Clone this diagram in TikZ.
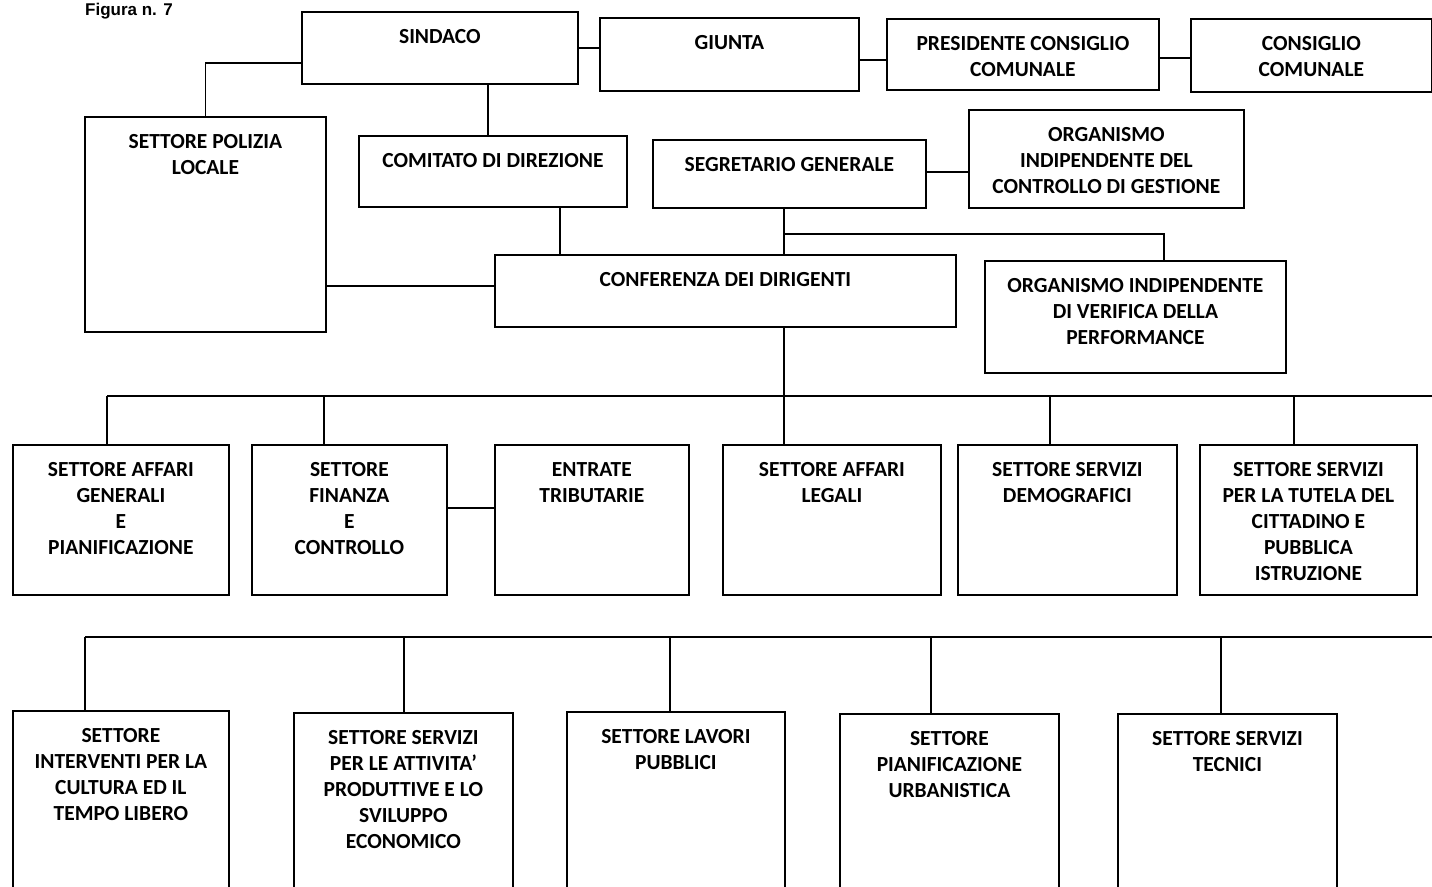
\documentclass[tikz,border=0pt]{standalone}
\usepackage{fontspec}
\setmainfont{Carlito}
\newfontfamily\capfont{Liberation Sans}
\usetikzlibrary{
	positioning,
	calc
}

\begin{document}
\begin{tikzpicture}[x=1pt,y=-1pt,
	box/.style={draw,line width=1.8pt,inner sep=0pt,anchor=north west},
	lbl/.style={anchor=north,align=center,inner sep=0pt,yshift=-18pt,
		font=\bfseries\fontsize{21.5}{26}\selectfont},
	link/.style={line width=1.8pt}]
		
		\useasboundingbox (0,0) rectangle (1432,886);
		
		\node[anchor=base west,inner sep=0pt,font=\capfont\bfseries\fontsize{17}{20}\selectfont] (fig) at (85,15) {Figura n. 7};
		
		% Vertice
		\node[box,minimum width=276pt,minimum height=72pt,label={[lbl]north:SINDACO}] (sindaco) at (301,11) {};
		\node[box,minimum width=259pt,minimum height=73pt,label={[lbl]north:GIUNTA}] (giunta) at (599,17) {};
		\node[box,minimum width=272pt,minimum height=71pt,label={[lbl]north:PRESIDENTE CONSIGLIO\\COMUNALE}] (presidente) at (886,18) {};
		\node[box,minimum width=241pt,minimum height=73pt,label={[lbl]north:CONSIGLIO\\COMUNALE}] (consiglio) at (1190,18) {};
		
		\node[box,minimum width=241pt,minimum height=215pt,label={[lbl]north:SETTORE POLIZIA\\LOCALE}] (polizia) at (84,116) {};
		\node[box,minimum width=268pt,minimum height=71pt,label={[lbl]north:COMITATO DI DIREZIONE}] (comitato) at (358,135) {};
		\node[box,minimum width=273pt,minimum height=68pt,label={[lbl]north:SEGRETARIO GENERALE}] (segretario) at (652,139) {};
		\node[box,minimum width=275pt,minimum height=98pt,label={[lbl]north:ORGANISMO\\INDIPENDENTE DEL\\CONTROLLO DI GESTIONE}] (oicg) at (968,109) {};
		\node[box,minimum width=461pt,minimum height=72pt,label={[lbl]north:CONFERENZA DEI DIRIGENTI}] (conferenza) at (494,254) {};
		\node[box,minimum width=301pt,minimum height=112pt,label={[lbl]north:ORGANISMO INDIPENDENTE\\DI VERIFICA DELLA\\PERFORMANCE}] (oiv) at (984,260) {};
		
		% Settori, prima fila
		\node[box,minimum width=216pt,minimum height=150pt,label={[lbl]north:SETTORE AFFARI\\GENERALI\\E\\PIANIFICAZIONE}] (affgen) at (12,444) {};
		\node[box,minimum width=195pt,minimum height=150pt,label={[lbl]north:SETTORE\\FINANZA\\E\\CONTROLLO}] (finanza) at (251,444) {};
		\node[box,minimum width=194pt,minimum height=150pt,label={[lbl]north:ENTRATE\\TRIBUTARIE}] (entrate) at (494,444) {};
		\node[box,minimum width=218pt,minimum height=150pt,label={[lbl]north:SETTORE AFFARI\\LEGALI}] (legali) at (722,444) {};
		\node[box,minimum width=219pt,minimum height=150pt,label={[lbl]north:SETTORE SERVIZI\\DEMOGRAFICI}] (demografici) at (957,444) {};
		\node[box,minimum width=217pt,minimum height=150pt,label={[lbl]north:SETTORE SERVIZI\\PER LA TUTELA DEL\\CITTADINO E\\PUBBLICA\\ISTRUZIONE}] (tutela) at (1199,444) {};
		
		% Settori, seconda fila
		\node[box,minimum width=216pt,minimum height=190pt,label={[lbl]north:SETTORE\\INTERVENTI PER LA\\CULTURA ED IL\\TEMPO LIBERO}] (cultura) at (12,710) {};
		\node[box,minimum width=219pt,minimum height=190pt,label={[lbl]north:SETTORE SERVIZI\\PER LE ATTIVITA’\\PRODUTTIVE E LO\\SVILUPPO\\ECONOMICO}] (attivita) at (293,712) {};
		\node[box,minimum width=218pt,minimum height=190pt,label={[lbl]north:SETTORE LAVORI\\PUBBLICI}] (lavori) at (566,711) {};
		\node[box,minimum width=219pt,minimum height=190pt,label={[lbl]north:SETTORE\\PIANIFICAZIONE\\URBANISTICA}] (urbanistica) at (839,713) {};
		\node[box,minimum width=219pt,minimum height=190pt,label={[lbl]north:SETTORE SERVIZI\\TECNICI}] (tecnici) at (1117,713) {};
		
		% Linea dei settori
		\coordinate (b1) at (107,396);
		\coordinate (b2) at (324,396);
		\coordinate (b3) at (784,396);
		\coordinate (b4) at (1050,396);
		\coordinate (b5) at (1294,396);
		\coordinate (bend) at (1440,396);
		
		\coordinate (d1) at (85,637);
		\coordinate (d2) at (404,637);
		\coordinate (d3) at (670,637);
		\coordinate (d4) at (931,637);
		\coordinate (d5) at (1221,637);
		\coordinate (dend) at (1440,637);
		
		% Collegamenti in alto
		\draw[link] (sindaco.east) -- (sindaco.east -| giunta.west);
		\draw[link] ($(giunta.east)+(0,5.5)$) coordinate (gp) -- (gp -| presidente.west);
		\draw[link] ($(presidente.east)+(0,3.5)$) coordinate (pc) -- (pc -| consiglio.west);
		\draw[link] ($(sindaco.west)+(0,15)$) -| (polizia.north);
		\draw[link] ($(sindaco.south)+(48,0)$) coordinate (s1) -- (s1 |- comitato.north);
		\draw[link] ($(segretario.east)+(0,-2)$) coordinate (so) -- (so -| oicg.west);
		\draw[link] ($(comitato.south)+(67,0)$) coordinate (c1) -- (c1 |- conferenza.north);
		\draw[link] ($(conferenza.west)+(0,-5)$) coordinate (cp) -- (cp -| polizia.east);
		\draw[link] (b3 |- segretario.south) coordinate (g1) -- (g1 |- conferenza.north);
		\draw[link] ($(g1)+(0,25)$) -| ($(oiv.north)+(28.5,0)$);
		
		% Settori
		\draw[link] (b1) -- (bend);
		\draw[link] (b3 |- conferenza.south) -- (b3);
		\draw[link] (b1) -- (b1 |- affgen.north);
		\draw[link] (b2) -- (b2 |- finanza.north);
		\draw[link] (b3) -- (b3 |- legali.north);
		\draw[link] (b4) -- (b4 |- demografici.north);
		\draw[link] (b5) -- (b5 |- tutela.north);
		\draw[link] ($(finanza.east)+(0,-12)$) coordinate (fe) -- (fe -| entrate.west);
		
		\draw[link] (d1) -- (dend);
		\draw[link] (d1) -- (d1 |- cultura.north);
		\draw[link] (d2) -- (d2 |- attivita.north);
		\draw[link] (d3) -- (d3 |- lavori.north);
		\draw[link] (d4) -- (d4 |- urbanistica.north);
		\draw[link] (d5) -- (d5 |- tecnici.north);
		
\end{tikzpicture}
\end{document}
